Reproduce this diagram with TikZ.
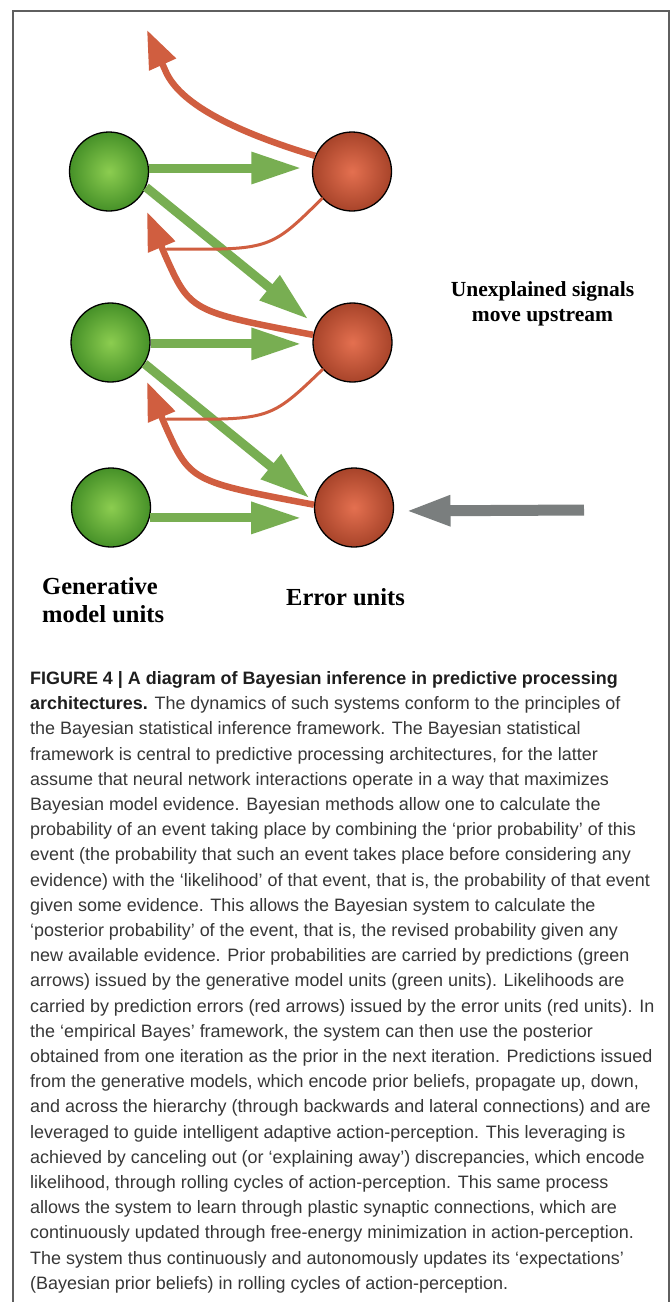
\documentclass[tikz,border=0pt]{standalone}
\usepackage{fontspec}
\setmainfont{Liberation Serif}
\newfontfamily\capfont{Liberation Sans}
\usetikzlibrary{arrows.meta}
\definecolor{gIn}{RGB}{140,205,80}
\definecolor{gOut}{RGB}{70,145,40}
\definecolor{rIn}{RGB}{228,112,80}
\definecolor{rOut}{RGB}{168,68,42}
\definecolor{gArr}{RGB}{120,174,82}
\definecolor{rArr}{RGB}{208,94,64}
\definecolor{grArr}{RGB}{122,126,126}
\definecolor{frameC}{RGB}{95,95,95}
\definecolor{capBody}{RGB}{55,55,55}
\definecolor{capHead}{RGB}{30,30,30}
\begin{document}
\begin{tikzpicture}[x=1pt,y=-1pt,
  gunit/.style={circle, draw=black, line width=1.3pt, minimum size=79pt, inner sep=0pt,
    inner color=gIn, outer color=gOut},
  eunit/.style={circle, draw=black, line width=1.3pt, minimum size=79pt, inner sep=0pt,
    inner color=rIn, outer color=rOut},
  garrow/.style={draw=gArr, line width=9pt, -{Triangle[length=50pt,width=30pt]}},
  rthick/.style={draw=rArr, line width=6.5pt, -{Triangle[length=38pt,width=28pt]}},
  rthin/.style={draw=rArr, line width=3pt, line cap=round},
  grarrow/.style={draw=grArr, line width=11pt, -{Triangle[length=45pt,width=28pt]}},
  lab/.style={font=\fontsize{21.5pt}{25pt}\selectfont\bfseries, text=black, inner sep=0pt, anchor=base},
  lablow/.style={font=\fontsize{24.5pt}{28pt}\selectfont\bfseries, text=black, inner sep=0pt, anchor=base},
  capline/.style={font=\capfont\fontsize{17.95pt}{25.2pt}\selectfont, text=capBody, inner sep=0pt, anchor=base west}
]
\useasboundingbox (0,0) rectangle (672,1302);
\fill[white] (0,0) rectangle (672,1302);
% frame
\draw[frameC, line width=1.3pt] (13,1302) -- (13,11) -- (669,11) -- (669,1302);

% units
\node[gunit] (G1) at (109,171.5) {};
\node[gunit] (G2) at (110.5,342.5) {};
\node[gunit] (G3) at (111,507.5) {};
\node[eunit] (R1) at (352,171.5) {};
\node[eunit] (R2) at (352.5,342.5) {};
\node[eunit] (R3) at (354,507.5) {};

% coordinates for free ends
\coordinate (topTip) at (147,30);
\coordinate (topBend) at (166,72);
\coordinate (tipA) at (147,212);
\coordinate (bendA) at (165,255);
\coordinate (joinA) at (167,249);
\coordinate (tipB) at (147,382);
\coordinate (bendB) at (165,425);
\coordinate (joinB) at (167,419);
\coordinate (sensory) at (584,510);

% green predictions (lateral)
\draw[garrow, shorten >=10.6pt] (G1.5) -- (R1.175);
\draw[garrow, shorten >=11pt] (G2.358) -- (R2.182);
\draw[garrow, shorten >=14pt] (G3.345) -- (R3.195);
% green predictions (descending)
\draw[garrow, shorten >=10pt] (G1.337) -- (R2.155);
\draw[garrow, shorten >=6pt] (G2.328) -- (R3.172);

% red prediction errors
\draw[rthick] (R1.157) .. controls (228.5,129.7) and (179.5,102) .. (topBend) -- (topTip);
\draw[rthin] (R1.222) .. controls (270,250) .. (joinA);
\draw[rthick] (R2.169) .. controls (190.2,311.4) .. (bendA) -- (tipA);
\draw[rthin] (R2.222) .. controls (270,420) .. (joinB);
\draw[rthick] (R3.176) .. controls (190.2,481.4) .. (bendB) -- (tipB);

% sensory input
\draw[grarrow, shorten >=11.5pt] (sensory) -- (R3.-5);

% labels
\node[lab] (up1) at (542.5,296) {Unexplained signals};
\node[lab] (up2) at (542.5,321) {move upstream};
\node[lablow, anchor=base west] (gen1) at (42,594) {Generative};
\node[lablow, anchor=base west] (gen2) at (42,622) {model units};
\node[lablow] (err) at (345.5,605) {Error units};

% caption
\foreach \txt [count=\i from 0] in {
  {\textcolor{capHead}{\bfseries FIGURE 4 | A diagram of Bayesian inference in predictive processing}},
  {\textcolor{capHead}{\bfseries architectures.} The dynamics of such systems conform to the principles of},
  {the Bayesian statistical inference framework. The Bayesian statistical},
  {framework is central to predictive processing architectures, for the latter},
  {assume that neural network interactions operate in a way that maximizes},
  {Bayesian model evidence. Bayesian methods allow one to calculate the},
  {probability of an event taking place by combining the ‘prior probability’ of this},
  {event (the probability that such an event takes place before considering any},
  {evidence) with the ‘likelihood’ of that event, that is, the probability of that event},
  {given some evidence. This allows the Bayesian system to calculate the},
  {‘posterior probability’ of the event, that is, the revised probability given any},
  {new available evidence. Prior probabilities are carried by predictions (green},
  {arrows) issued by the generative model units (green units). Likelihoods are},
  {carried by prediction errors (red arrows) issued by the error units (red units). In},
  {the ‘empirical Bayes’ framework, the system can then use the posterior},
  {obtained from one iteration as the prior in the next iteration. Predictions issued},
  {from the generative models, which encode prior beliefs, propagate up, down,},
  {and across the hierarchy (through backwards and lateral connections) and are},
  {leveraged to guide intelligent adaptive action-perception. This leveraging is},
  {achieved by canceling out (or ‘explaining away’) discrepancies, which encode},
  {likelihood, through rolling cycles of action-perception. This same process},
  {allows the system to learn through plastic synaptic connections, which are},
  {continuously updated through free-energy minimization in action-perception.},
  {The system thus continuously and autonomously updates its ‘expectations’},
  {(Bayesian prior beliefs) in rolling cycles of action-perception.}
}{
  \node[capline] (cap\i) at (30,{684.5+25.2*\i}) {\txt};
}
\end{tikzpicture}
\end{document}
